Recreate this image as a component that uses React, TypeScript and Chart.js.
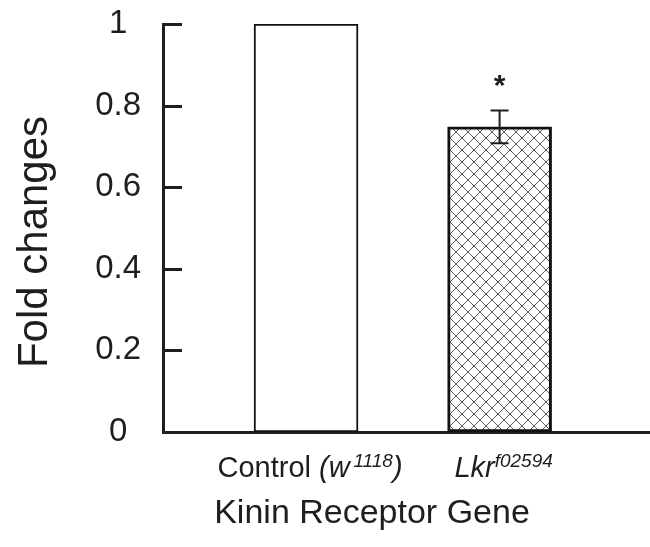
import React, { useEffect, useRef } from "react";
import { Chart, registerables } from "chart.js";

Chart.register(...registerables);

// ---- data ----
const categories = ["Control (w1118)", "Lkr f02594"];
const foldChanges = [1.0, 0.748];
const errors = [0, 0.04];
const significance = ["", "*"];
const yTicks = [0, 0.2, 0.4, 0.6, 0.8, 1];
const yTitle = "Fold changes";
const xTitle = "Kinin Receptor Gene";
// label parts: [text, italic, superscript]
const labelParts: [string, boolean, boolean][][] = [
  [["Control ", false, false], ["(", true, false], ["w", true, false], ["\u20091118", true, true], [")", true, false]],
  [["Lkr", true, false], ["f02594", true, true]],
];

const FONT = "'Liberation Sans', Arial, sans-serif";
const INK = "#1e1e1e";

function makeHatch(): CanvasPattern | string {
  const c = document.createElement("canvas");
  const s = 12;
  c.width = s;
  c.height = s;
  const g = c.getContext("2d");
  if (!g) return "#ddd";
  g.fillStyle = "#ffffff";
  g.fillRect(0, 0, s, s);
  g.strokeStyle = "#5a5a5a";
  g.lineWidth = 1;
  g.beginPath();
  g.moveTo(-1, -1);
  g.lineTo(s + 1, s + 1);
  g.moveTo(s + 1, -1);
  g.lineTo(-1, s + 1);
  g.stroke();
  const p = g.createPattern(c, "repeat");
  return p || "#ddd";
}

function drawParts(ctx: CanvasRenderingContext2D, parts: [string, boolean, boolean][], cx: number, baseline: number) {
  const mainSize = 29;
  const supSize = 19;
  const fontFor = (it: boolean, sup: boolean) => `${it ? "italic " : ""}${sup ? supSize : mainSize}px ${FONT}`;
  let total = 0;
  const widths: number[] = [];
  for (const [t, it, sup] of parts) {
    ctx.font = fontFor(it, sup);
    const w = ctx.measureText(t).width;
    widths.push(w);
    total += w;
  }
  let x = cx - total / 2;
  ctx.textAlign = "left";
  ctx.textBaseline = "alphabetic";
  parts.forEach(([t, it, sup], i) => {
    ctx.font = fontFor(it, sup);
    ctx.fillText(t, x, sup ? baseline - 10 : baseline);
    x += widths[i];
  });
}

const overlay = {
  id: "overlay",
  afterDraw(chart: any) {
    const ctx: CanvasRenderingContext2D = chart.ctx;
    const xs = chart.scales.x;
    const ys = chart.scales.y;
    const left = chart.chartArea.left;
    ctx.save();
    ctx.strokeStyle = INK;
    ctx.fillStyle = INK;
    // inward y ticks
    ctx.lineWidth = 3;
    yTicks.forEach((v) => {
      if (v === 0) return;
      const y = Math.round(ys.getPixelForValue(v)) + 0.5;
      ctx.beginPath();
      ctx.moveTo(left, y);
      ctx.lineTo(left + 19, y);
      ctx.stroke();
    });
    // error bars
    ctx.lineWidth = 2;
    foldChanges.forEach((v, i) => {
      const e = errors[i];
      if (!e) return;
      const x = xs.getPixelForValue(i);
      const yTop = ys.getPixelForValue(v + e);
      const yBot = ys.getPixelForValue(v - e);
      ctx.beginPath();
      ctx.moveTo(x, yTop);
      ctx.lineTo(x, yBot);
      ctx.moveTo(x - 9, yTop);
      ctx.lineTo(x + 9, yTop);
      ctx.moveTo(x - 9, yBot);
      ctx.lineTo(x + 9, yBot);
      ctx.stroke();
      // significance star
      if (significance[i]) {
        ctx.font = `bold 30px ${FONT}`;
        ctx.textAlign = "center";
        ctx.textBaseline = "middle";
        ctx.fillText(significance[i], x, yTop - 24);
      }
    });
    // category labels
    categories.forEach((_, i) => {
      drawParts(ctx, labelParts[i], xs.getPixelForValue(i) + 4, 477);
    });
    // x title
    ctx.font = `34px ${FONT}`;
    ctx.textAlign = "center";
    ctx.textBaseline = "alphabetic";
    ctx.fillText(xTitle, 372, 523);
    // y title
    ctx.save();
    ctx.translate(47, 242);
    ctx.rotate(-Math.PI / 2);
    ctx.font = `42px ${FONT}`;
    ctx.textAlign = "center";
    ctx.textBaseline = "alphabetic";
    ctx.fillText(yTitle, 0, 0);
    ctx.restore();
    ctx.restore();
  },
};

export default function App() {
  const ref = useRef<HTMLCanvasElement>(null);
  useEffect(() => {
    if (!ref.current) return;
    const hatch = makeHatch();
    const chart = new Chart(ref.current, {
      type: "bar",
      data: {
        datasets: [
          {
            data: foldChanges.map((v, i) => ({ x: i, y: v })),
            backgroundColor: ["#ffffff", hatch as any],
            borderColor: "#111111",
            borderWidth: [2, 3] as any,
            borderSkipped: false,
            barThickness: 104,
          },
        ],
      },
      options: {
        responsive: false,
        animation: false,
        layout: { padding: { left: 0, right: 0, top: 24, bottom: 0 } },
        plugins: { legend: { display: false }, tooltip: { enabled: false } },
        scales: {
          x: {
            type: "linear",
            offset: false,
            min: -0.739,
            max: 1.777,
            grid: { display: false, offset: false },
            border: { display: true, width: 3, color: INK },
            ticks: { display: false },
            afterFit: (s: any) => {
              s.height = 115;
              s.paddingLeft = 0;
              s.paddingRight = 0;
            },
          },
          y: {
            min: 0,
            max: 1,
            grid: { display: false },
            border: { display: true, width: 3, color: INK },
            ticks: {
              stepSize: 0.2,
              padding: 14,
              crossAlign: "center",
              color: INK,
              font: { family: FONT, size: 33 },
              callback: (v: any) => String(Number(Number(v).toFixed(1))),
            },
            afterFit: (s: any) => {
              s.width = 163;
              s.paddingTop = 0;
              s.paddingBottom = 0;
            },
          },
        },
      },
      plugins: [overlay],
    });
    return () => chart.destroy();
  }, []);
  return (
    <div style={{ position: "absolute", left: 0, top: 0, width: 650, height: 547, background: "#fff" }}>
      <canvas ref={ref} width={650} height={547} style={{ display: "block" }} />
    </div>
  );
}
